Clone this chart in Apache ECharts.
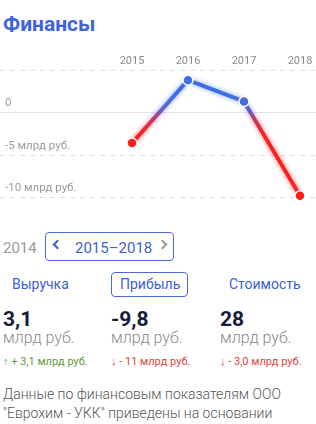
<!DOCTYPE html>
<html>
<head>
<meta charset="utf-8">
<script src="https://cdn.jsdelivr.net/npm/echarts@6/dist/echarts.min.js"></script>
<style>
  html, body { margin: 0; padding: 0; background: #fff; width: 316px; height: 424px; overflow: hidden; font-family: Roboto, "Noto Sans", sans-serif; }
  .abs { position: absolute; white-space: nowrap; }
  #chart { position: absolute; left: 0; top: 0; width: 316px; height: 215px; }
  .title { left: 3px; top: 12px; font-size: 21px; line-height: 24px; font-weight: 700; color: #3e63dd; }
  .blue { color: #3d5fcf; }
  .big { font-size: 21px; line-height: 22px; font-weight: 700; color: #171b3b; }
  .unit { font-size: 16px; line-height: 18px; font-weight: 300; color: #8a8a8a; }
  .chg { font-size: 11px; line-height: 12px; }
  .up { color: #5f9a3c; }
  .down { color: #e2423e; }
  .note { left: 3px; font-size: 14px; line-height: 18px; color: #555; font-weight: 300; }
  .chev { position: absolute; width: 5px; height: 5px; border-left: 2px solid; border-bottom: 2px solid; }
</style>
</head>
<body>
<div class="abs title">Финансы</div>
<div id="chart"></div>

<div class="abs" style="left:3px;top:239px;font-size:15px;line-height:18px;color:#9a9a9a;">2014</div>
<div class="abs" style="left:45px;top:232px;width:127px;height:27px;border:1px solid #4a6bd6;border-radius:4px;"></div>
<div class="chev" style="left:54px;top:241px;border-color:#3d5fcf;transform:rotate(45deg);"></div>
<div class="abs blue" style="left:75px;top:239px;font-size:15px;line-height:18px;">2015–2018</div>
<div class="chev" style="left:159px;top:241px;border-color:#9a9a9a;transform:rotate(-135deg);"></div>

<div class="abs blue" style="left:12px;top:276px;font-size:14px;line-height:17px;">Выручка</div>
<div class="abs" style="left:111px;top:272px;width:75px;height:23px;border:1px solid #4a6bd6;border-radius:4px;"></div>
<div class="abs blue" style="left:120px;top:276px;font-size:14px;line-height:17px;">Прибыль</div>
<div class="abs blue" style="left:229px;top:276px;font-size:14px;line-height:17px;">Стоимость</div>

<div class="abs big" style="left:3px;top:308px;">3,1</div>
<div class="abs unit" style="left:3px;top:329px;">млрд руб.</div>
<div class="abs chg up" style="left:3px;top:356px;">↑ + 3,1 млрд руб.</div>

<div class="abs big" style="left:111px;top:308px;">-9,8</div>
<div class="abs unit" style="left:111px;top:329px;">млрд руб.</div>
<div class="abs chg down" style="left:111px;top:356px;">↓ - 11 млрд руб.</div>

<div class="abs big" style="left:220px;top:308px;">28</div>
<div class="abs unit" style="left:220px;top:329px;">млрд руб.</div>
<div class="abs chg down" style="left:220px;top:356px;">↓ - 3,0 млрд руб.</div>

<div class="abs note" style="top:385px;">Данные по финансовым показателям ООО</div>
<div class="abs note" style="top:404px;">"Еврохим - УКК" приведены на основании</div>

<script>
var years = ['2015', '2016', '2017', '2018'];
var profit = [-3.6, 3.8, 1.3, -9.8];
var yTicks = [5, 0, -5, -10];
var yTickLabels = ['', '0', '-5 млрд руб.', '-10 млрд руб.'];

var RED = '#ff1f1f', BLUE = '#3d6ee8';
var chart = echarts.init(document.getElementById('chart'), null, { renderer: 'canvas' });
var gridTop = 70, gridH = 127.5;
chart.setOption({
  animation: false,
  grid: [
    { left: 0, right: 0, top: gridTop, height: gridH },
    { left: 132, right: 16, top: gridTop, height: gridH }
  ],
  xAxis: [
    { gridIndex: 0, type: 'value', min: 0, max: 1, axisLine: { show: true, onZero: true, lineStyle: { color: '#e4e4e4', width: 1 } }, axisTick: { show: false }, axisLabel: { show: false }, splitLine: { show: false } },
    { gridIndex: 1, type: 'category', data: years, boundaryGap: false, position: 'top', axisLine: { show: false }, axisTick: { show: false }, axisLabel: { color: '#8a8a8a', fontSize: 11, margin: 3, fontFamily: 'Roboto' }, splitLine: { show: false } }
  ],
  yAxis: [
    { gridIndex: 0, type: 'value', min: -10, max: 5, interval: 5, axisLine: { show: false }, axisTick: { show: false },
      splitLine: { show: true, lineStyle: { color: '#e0e0e0', type: [5, 5], width: 1 } },
      axisLabel: { inside: true, margin: 5, verticalAlign: 'bottom', padding: [0, 0, 3, 0], color: '#9a9a9a', fontSize: 11.5, fontFamily: 'Roboto',
        formatter: function (v) { var i = yTicks.indexOf(v); return i >= 0 ? yTickLabels[i] : ''; } } },
    { gridIndex: 1, type: 'value', min: -10, max: 5, interval: 5, show: false }
  ],
  visualMap: {
    show: false, type: 'continuous', dimension: 1, seriesIndex: [0, 1, 2], min: -10, max: 5,
    inRange: { color: [RED, RED, RED, RED, RED, RED, '#d0355c', '#5566d8', BLUE, BLUE, BLUE] }
  },
  series: [
    { type: 'line', xAxisIndex: 1, yAxisIndex: 1, data: profit, symbol: 'none', lineStyle: { width: 12, opacity: 0.08 }, silent: true, z: 1 },
    { type: 'line', xAxisIndex: 1, yAxisIndex: 1, data: profit, symbol: 'none', lineStyle: { width: 8, opacity: 0.14 }, silent: true, z: 2 },
    { type: 'line', xAxisIndex: 1, yAxisIndex: 1, data: profit, symbol: 'circle', symbolSize: 10, showSymbol: true,
      lineStyle: { width: 4 }, itemStyle: { borderColor: '#fff', borderWidth: 1.5 }, z: 3 }
  ]
});
</script>
</body>
</html>
